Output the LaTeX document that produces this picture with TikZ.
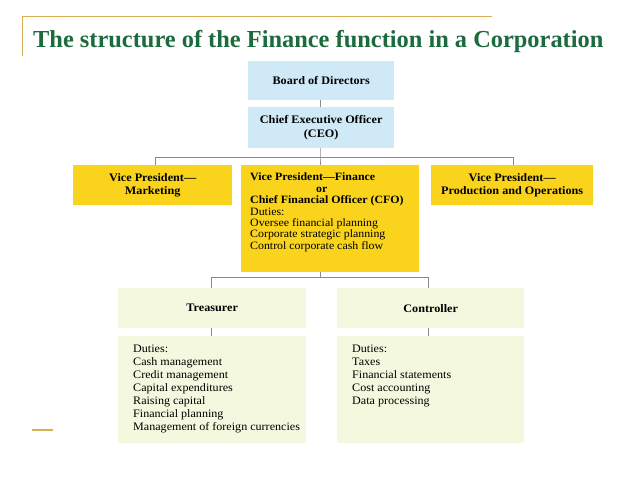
\documentclass[tikz,border=0pt]{standalone}
\usepackage{fontspec}
\setmainfont{Liberation Serif}
\newfontfamily\gar[FakeStretch=1.06,Ligatures=TeX]{Liberation Serif}
\definecolor{titlegreen}{HTML}{1B6B3E}
\definecolor{gold}{HTML}{D9AE52}
\definecolor{boxblue}{HTML}{CFE9F6}
\definecolor{boxyellow}{HTML}{F9D31C}
\definecolor{boxgreen}{HTML}{F3F8DE}
\definecolor{linegray}{HTML}{8A8A8A}
\begin{document}
\begin{tikzpicture}[x=1pt,y=-1pt,
  box/.style={draw=none,inner sep=0pt,anchor=north west},
  head/.style={font=\gar\fontsize{11.5}{13.5}\selectfont\bfseries,align=center},
  body/.style={font=\gar\fontsize{11.4}{12.9}\selectfont,align=left,anchor=north west,inner sep=0pt},
  conn/.style={draw=linegray,line width=0.6pt}]
\useasboundingbox (0,0) rectangle (638,479);
\fill[white] (0,0) rectangle (638,479);
% frame lines
\draw[gold,line width=0.8pt] (22,16) -- (492,16);
\draw[gold,line width=0.8pt] (22,16) -- (22,56);
\draw[gold,line width=1.2pt] (32,430) -- (53,430);
\node[anchor=base west,inner sep=0pt,text=titlegreen,font=\fontsize{24.4}{27}\selectfont\bfseries] (title) at (33,47) {The structure of the Finance function in a Corporation};
% boxes
\node[box,fill=boxblue,minimum width=146pt,minimum height=39pt,head] (board) at (248,61) {\raisebox{-2pt}{Board of Directors}};
\node[box,fill=boxblue,minimum width=146pt,minimum height=41pt,head] (ceo) at (248,107) {Chief Executive Officer\\(CEO)};
\node[box,fill=boxyellow,minimum width=159pt,minimum height=40pt,head] (vpm) at (73,165) {Vice President---\\Marketing};
\node[box,fill=boxyellow,minimum width=178pt,minimum height=107pt] (vpf) at (241,165) {};
\node[box,fill=boxyellow,minimum width=162pt,minimum height=40pt,head] (vpp) at (431,165) {Vice President---\\Production and Operations};
\node[body,font=\gar\fontsize{11.2}{11.4}\selectfont] (vpftext) at (250,173) {\textbf{Vice President---Finance}\\\hspace*{66pt}\textbf{or}\\\textbf{Chief Financial Officer (CFO)}\\Duties:\\Oversee financial planning\\Corporate strategic planning\\Control corporate cash flow};
\node[box,fill=boxgreen,minimum width=188pt,minimum height=40pt,head] (tre) at (118,288) {Treasurer};
\node[box,fill=boxgreen,minimum width=187pt,minimum height=40pt,head] (con) at (337,288) {Controller};
\node[box,fill=boxgreen,minimum width=188pt,minimum height=107pt] (tred) at (118,336) {};
\node[box,fill=boxgreen,minimum width=187pt,minimum height=107pt] (cond) at (337,336) {};
\node[body] (tretext) at (133,345) {Duties:\\Cash management\\Credit management\\Capital expenditures\\Raising capital\\Financial planning\\Management of foreign currencies};
\node[body] (context) at (352,345) {Duties:\\Taxes\\Financial statements\\Cost accounting\\Data processing};
% connectors
\coordinate (j1) at (320,157);
\coordinate (j2) at (320,277);
\draw[conn] (board.south -| j1) -- (ceo.north -| j1);
\draw[conn] (ceo.south -| j1) -- (j1) -- (j1 |- vpf.north);
\draw[conn] (j1) -| (vpm.north -| 155,0);
\draw[conn] (j1) -| (vpp.north -| 513,0);
\draw[conn] (vpf.south -| j2) -- (j2);
\draw[conn] (j2) -| (tre.north -| 211,0);
\draw[conn] (j2) -| (con.north -| 428,0);
\draw[conn] (tre.south -| 211,0) -- (tred.north -| 211,0);
\draw[conn] (con.south -| 428,0) -- (cond.north -| 428,0);
\end{tikzpicture}
\end{document}
